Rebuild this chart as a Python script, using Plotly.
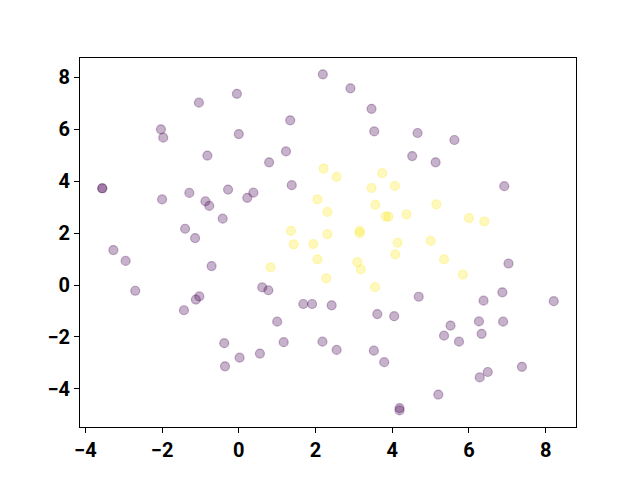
import plotly.graph_objects as go

# class 0 (purple)
x0 = [2.19, -0.05, -1.04, 1.34, -2.03, -1.97, 0.0, -0.82, 1.23, 0.79, -3.56, -3.56,
      -2.0, -1.29, -0.87, -0.77, -0.28, 0.22, 0.38, 1.38, -0.42, -1.40, -1.14,
      2.91, 3.46, 3.53, 4.66, 5.62, 4.52, 5.13, 6.92,
      7.03, 4.69, 6.87, 6.38, 8.21, 2.42, 3.61, 4.05, 5.52, 6.26, 6.89, 5.35, 5.74, 6.33,
      2.18, 2.55, 3.52, 3.79, 7.38, 6.28, 6.49, 5.20, 4.19, 4.19,
      -3.27, -2.95, -2.70, -0.71, -1.12, -1.03, -1.43, 0.61, 0.77, 1.0, 1.17, -0.38,
      -0.36, 0.02, 0.55, 1.68, 1.91]
y0 = [8.12, 7.37, 7.03, 6.35, 6.0, 5.68, 5.82, 4.99, 5.15, 4.73, 3.73, 3.73,
      3.3, 3.55, 3.23, 3.05, 3.68, 3.36, 3.56, 3.85, 2.56, 2.17, 1.81,
      7.58, 6.79, 5.92, 5.86, 5.59, 4.97, 4.73, 3.81,
      0.83, -0.45, -0.28, -0.60, -0.62, -0.78, -1.12, -1.2, -1.56, -1.40, -1.41, -1.95, -2.18, -1.88,
      -2.18, -2.5, -2.53, -2.97, -3.15, -3.56, -3.35, -4.22, -4.74, -4.83,
      1.35, 0.93, -0.22, 0.73, -0.56, -0.44, -0.97, -0.09, -0.2, -1.41, -2.2, -2.24,
      -3.13, -2.8, -2.64, -0.73, -0.73]

# class 1 (yellow)
x1 = [2.21, 2.55, 3.74, 3.46, 4.07, 2.05, 2.31, 3.56, 5.15, 3.83, 3.90, 4.37, 6.0, 6.40,
      1.36, 2.31, 3.15, 3.15, 4.14, 5.0, 1.43, 1.94, 2.05, 3.09, 3.18, 4.08, 5.35, 0.83,
      2.28, 3.55, 5.84]
y1 = [4.49, 4.17, 4.31, 3.74, 3.82, 3.3, 2.82, 3.09, 3.11, 2.64, 2.64, 2.72, 2.58, 2.45,
      2.09, 1.96, 2.09, 2.0, 1.63, 1.70, 1.57, 1.58, 0.99, 0.88, 0.60, 1.18, 0.99, 0.68,
      0.26, -0.08, 0.40]

x_ticks = [-4, -2, 0, 2, 4, 6, 8]
y_ticks = [-4, -2, 0, 2, 4, 6, 8]

fig = go.Figure()
for xs, ys, c in [(x0, y0, "rgba(68,1,84,0.3)"), (x1, y1, "rgba(253,231,37,0.3)")]:
    fig.add_trace(go.Scatter(
        x=xs, y=ys, mode="markers",
        marker=dict(size=9, color=c, line=dict(color=c, width=1.2)),
        showlegend=False,
    ))

axis_common = dict(
    showgrid=False, zeroline=False, showline=True, linecolor="black", linewidth=1,
    mirror=True, ticks="outside", ticklen=5, tickwidth=1, tickcolor="black",
    tickfont=dict(family="Roboto", size=20, color="black", weight="bold"),
)
fig.update_xaxes(range=[-4.14, 8.79], tickvals=x_ticks, **axis_common)
fig.update_yaxes(range=[-5.47, 8.75], tickvals=y_ticks, **axis_common)

fig.update_layout(
    width=640, height=480,
    margin=dict(l=72, r=72, t=50, b=61),
    plot_bgcolor="white", paper_bgcolor="white",
)

fig.write_html("out.html")
